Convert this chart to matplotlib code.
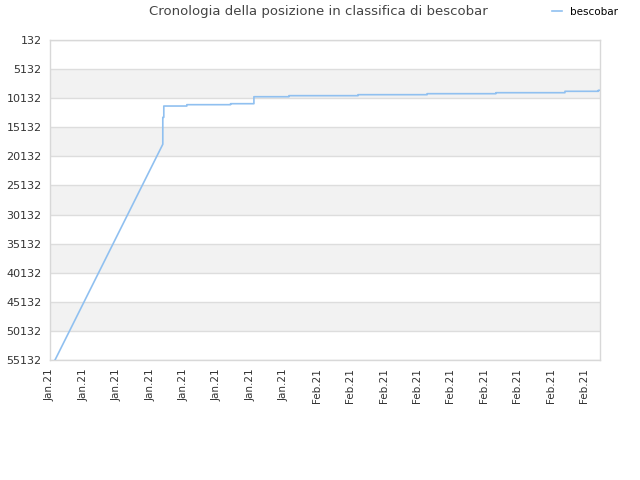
import matplotlib
matplotlib.use("Agg")
import matplotlib.pyplot as plt
import numpy as np

# Tick labels (17 equally spaced date ticks)
tick_labels = ["Jan.21"] * 8 + ["Feb.21"] * 9

# Initial climb (position in tick units, rank)
climb_x = [0.15, 3.38, 3.38, 3.41]
climb_rank = [55132, 18050, 13420, 13420]

# Step changes afterwards (position where new rank begins, rank)
step_x = [3.41, 4.10, 5.41, 6.11, 7.16, 9.23, 11.30, 13.36, 15.43, 16.43, 16.48]
step_rank = [11480, 11250, 11080, 9880, 9700, 9530, 9360, 9190, 8950, 8780, 8780]

y_ticks = [132, 5132, 10132, 15132, 20132, 25132, 30132, 35132, 40132, 45132, 50132, 55132]

# Build polyline
xs = list(climb_x)
ys = list(climb_rank)
for i in range(len(step_x)):
    if i > 0:
        xs.append(step_x[i])
        ys.append(step_rank[i - 1])
    xs.append(step_x[i])
    ys.append(step_rank[i])

fig = plt.figure(figsize=(6.4, 4.8), dpi=100)
ax = fig.add_axes([50 / 640, 1 - 360 / 480, 550 / 640, 320 / 480])

ax.set_ylim(55132, 132)
ax.set_xlim(0, 16.48)

# alternating bands
for i in range(len(y_ticks) - 1):
    if i % 2 == 1:
        ax.axhspan(y_ticks[i], y_ticks[i + 1], color="#f2f2f2", zorder=0, lw=0)
for yv in y_ticks:
    ax.axhline(yv, color="#dddddd", lw=1, zorder=1)

ax.plot(xs, ys, color="#90c0f0", lw=1.2, zorder=3, label="bescobar")

ax.set_yticks(y_ticks)
ax.set_yticklabels([str(v) for v in y_ticks], fontsize=8, color="#333333")
ax.set_xticks(np.arange(len(tick_labels)))
ax.set_xticklabels(tick_labels, rotation=90, fontsize=7.5, color="#333333")
ax.tick_params(length=0, pad=6)

for s in ax.spines.values():
    s.set_color("#d8d8d8")
    s.set_linewidth(1)

fig.text(318 / 640, 1 - 12 / 480, "Cronologia della posizione in classifica di bescobar",
         ha="center", va="center", fontsize=9.5, color="#444444")

leg = fig.legend(loc="center", bbox_to_anchor=(585 / 640, 1 - 12 / 480), frameon=False,
                 fontsize=7.5, handlelength=1.0, handletextpad=0.8)

fig.savefig("out.png", dpi=100)
